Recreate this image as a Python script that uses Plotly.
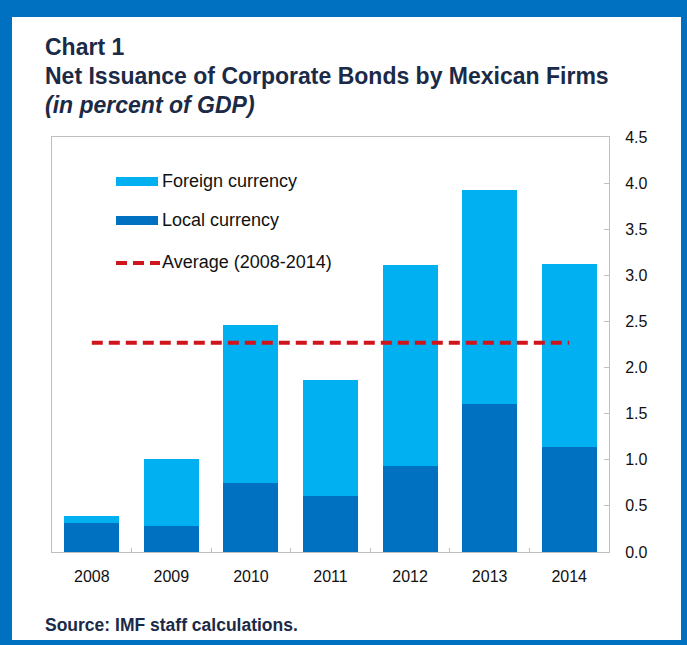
import plotly.graph_objects as go

years = ["2008", "2009", "2010", "2011", "2012", "2013", "2014"]
local_ccy = [0.31, 0.285, 0.745, 0.61, 0.93, 1.61, 1.14]
foreign_ccy = [0.08, 0.72, 1.715, 1.255, 2.18, 2.31, 1.98]
average_value = 2.27
y_ticks = [0.0, 0.5, 1.0, 1.5, 2.0, 2.5, 3.0, 3.5, 4.0, 4.5]

FONT = "Liberation Sans, Arial, sans-serif"
DARK_BLUE = "#0070C0"
LIGHT_BLUE = "#00B0F0"
RED = "#D0141C"
NAVY = "#1B2A47"

W, H = 687, 645
L, R, T, B = 52, 78, 137, 93
PW, PH = W - L - R, H - T - B


def px(x):
    return (x - L) / PW


def py(y):
    return (H - B - y) / PH


fig = go.Figure()
fig.add_trace(go.Bar(x=years, y=local_ccy, name="Local currency",
                     marker=dict(color=DARK_BLUE, line=dict(width=0)),
                     showlegend=False))
fig.add_trace(go.Bar(x=years, y=foreign_ccy, name="Foreign currency",
                     marker=dict(color=LIGHT_BLUE, line=dict(width=0)),
                     showlegend=False))
fig.add_trace(go.Scatter(x=years, y=[average_value] * len(years), mode="lines",
                         name="Average (2008-2014)",
                         line=dict(color=RED, width=4, dash="11px,6px"),
                         showlegend=False, hoverinfo="skip"))

shapes = [
    # white inner panel over the blue frame
    dict(type="rect", xref="paper", yref="paper", layer="below",
         x0=px(12), x1=px(681), y0=py(640), y1=py(17),
         fillcolor="white", line=dict(width=0)),
    # legend swatches
    dict(type="rect", xref="paper", yref="paper",
         x0=px(116), x1=px(158), y0=py(186), y1=py(177),
         fillcolor=LIGHT_BLUE, line=dict(width=0)),
    dict(type="rect", xref="paper", yref="paper",
         x0=px(116), x1=px(158), y0=py(225), y1=py(216),
         fillcolor=DARK_BLUE, line=dict(width=0)),
    dict(type="line", xref="paper", yref="paper",
         x0=px(116), x1=px(160), y0=py(263), y1=py(263),
         line=dict(color=RED, width=4, dash="11px,6px")),
]

annotations = [
    dict(text="<b>Chart 1</b>", x=px(43), y=py(47), size=23),
    dict(text="<b>Net Issuance of Corporate Bonds by Mexican Firms</b>", x=px(43), y=py(76), size=23),
    dict(text="<b><i>(in percent of GDP)</i></b>", x=px(43), y=py(105), size=23),
    dict(text="<b>Source: IMF staff calculations.</b>", x=px(43), y=py(625), size=17.5),
    dict(text="Foreign currency", x=px(160), y=py(181), size=18, color="#111111"),
    dict(text="Local currency", x=px(160), y=py(220), size=18, color="#111111"),
    dict(text="Average (2008-2014)", x=px(160), y=py(262), size=18, color="#111111"),
]
ann_objs = []
for a in annotations:
    ann_objs.append(dict(
        text=a["text"], x=a["x"], y=a["y"], xref="paper", yref="paper",
        xanchor="left", yanchor="middle", showarrow=False,
        font=dict(family=FONT, size=a["size"], color=a.get("color", NAVY)),
    ))

fig.update_layout(
    width=W, height=H,
    margin=dict(l=L, r=R, t=T, b=B, pad=0),
    paper_bgcolor=DARK_BLUE,
    plot_bgcolor="white",
    barmode="stack",
    bargap=0.31,
    shapes=shapes,
    annotations=ann_objs,
    font=dict(family=FONT, color="#111111"),
    xaxis=dict(
        type="category", showline=True, linecolor="#BFBFBF", linewidth=1,
        mirror=True, ticks="inside", ticklen=4, tickcolor="#BFBFBF",
        tickson="boundaries", showgrid=False, zeroline=False,
        tickfont=dict(family=FONT, size=16, color="#111111"),
        ticklabelstandoff=10,
    ),
    yaxis=dict(
        side="right", range=[0, 4.5], tickvals=y_ticks,
        ticktext=[f"{v:.1f}" for v in y_ticks],
        showline=True, linecolor="#BFBFBF", linewidth=1, mirror=True,
        ticks="inside", ticklen=5, tickcolor="#BFBFBF",
        showgrid=False, zeroline=False,
        tickfont=dict(family=FONT, size=16, color="#111111"),
        ticklabelstandoff=12,
    ),
)

fig.write_html("out.html")
